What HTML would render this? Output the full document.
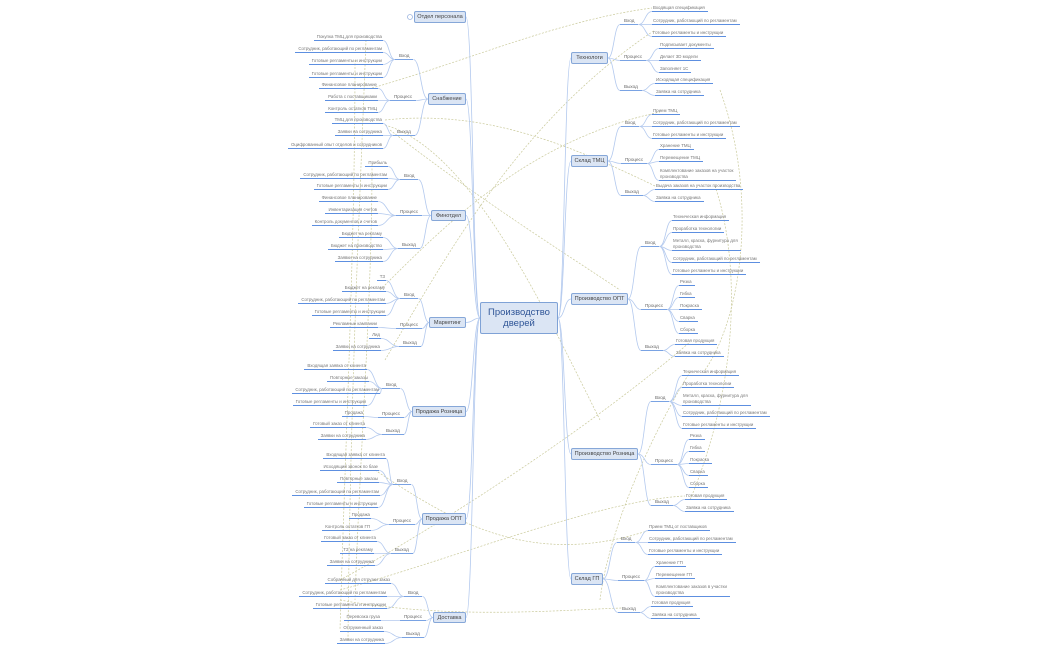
<!DOCTYPE html>
<html><head><meta charset="utf-8">
<style>
html,body{margin:0;padding:0;background:#fff;}
#w{position:relative;width:1050px;height:650px;overflow:hidden;font-family:"Liberation Sans",sans-serif;}
svg{position:absolute;left:0;top:0;}
.n{position:absolute;box-sizing:border-box;background:#dbe5f4;border:1px solid #86a7d8;border-radius:2px;font-size:5.6px;color:#444;display:flex;align-items:center;justify-content:center;white-space:nowrap;}
#n0{font-size:9.5px;color:#2f5597;border:1.5px solid #7fa2d6;text-align:center;line-height:11px;}
.l,.gl{position:absolute;font-size:4.4px;line-height:6px;height:6px;color:#777;border-bottom:1px solid #5d8fe0;padding:0 1px 0 3px;white-space:nowrap;}
.R.l{padding:0 3px 0 1px;}
.gl{color:#666;font-size:4.6px;padding:0 4px;border-bottom:1px solid #7aa3e3;}
.t2{height:12px;line-height:6px;}
</style></head><body><div id="w">
<svg id="s" width="1050" height="650">
<g fill="none" stroke="#c9c99a" stroke-width="0.7" stroke-dasharray="2,1.5">
<path d="M372 88 C470 60 560 20 652 8"/>
<path d="M385 120 C480 110 560 140 655 186"/>
<path d="M385 125 C470 150 540 300 600 420"/>
<path d="M366 40 C360 200 350 400 348 640"/>
<path d="M355 60 C355 250 345 450 340 630"/>
<path d="M372 165 C372 300 360 450 355 600"/>
<path d="M385 360 C450 250 520 120 655 30"/>
<path d="M720 90 C760 200 740 320 705 370"/>
<path d="M715 186 C740 260 740 380 690 500"/>
<path d="M600 600 C610 520 660 420 690 372"/>
<path d="M340 580 C450 520 600 420 690 342"/>
<path d="M340 590 C450 560 600 500 685 496"/>
<path d="M340 600 C450 620 560 610 622 608"/>
<path d="M380 290 C450 220 530 140 660 112"/>
<path d="M375 470 C450 520 530 570 650 530"/>
<path d="M390 130 C480 200 560 250 620 290"/>
</g>
<g id="cv" fill="none" stroke="#b3c9ee" stroke-width="0.8"></g>
<circle cx="410" cy="17" r="2.5" fill="#fff" stroke="#9db5e0" stroke-width="0.8"/>
</svg>

<div class="n" id="n0" style="left:480px;top:302px;width:78px;height:32px;">Производство<br>дверей</div>
<div class="n" id="n1" style="left:414px;top:11px;width:52px;height:12px;">Отдел персонала</div>
<div class="n" id="n2" style="left:428px;top:93px;width:38px;height:12px;">Снабжение</div>
<div class="n" id="n3" style="left:431px;top:210px;width:35px;height:11px;">Финотдел</div>
<div class="n" id="n4" style="left:429px;top:317px;width:37px;height:11px;">Маркетинг</div>
<div class="n" id="n5" style="left:412px;top:406px;width:54px;height:11px;">Продажа Розница</div>
<div class="n" id="n6" style="left:422px;top:513px;width:44px;height:12px;">Продажа ОПТ</div>
<div class="n" id="n7" style="left:433px;top:612px;width:33px;height:11px;">Доставка</div>
<div class="n" id="n8" style="left:571px;top:52px;width:37px;height:12px;">Технологи</div>
<div class="n" id="n9" style="left:571px;top:155px;width:37px;height:12px;">Склад ТМЦ</div>
<div class="n" id="n10" style="left:571px;top:293px;width:57px;height:12px;">Производство ОПТ</div>
<div class="n" id="n11" style="left:571px;top:448px;width:67px;height:12px;">Производство Розница</div>
<div class="n" id="n12" style="left:571px;top:573px;width:32px;height:12px;">Склад ГП</div>

<div class="gl L n2" id="g1" style="left:395px;top:53px;">Вход</div>
<div class="l L g1" style="right:667px;top:34px;">Покупка ТМЦ для производства</div>
<div class="l L g1" style="right:667px;top:46px;">Сотрудник, работающий по регламентам</div>
<div class="l L g1" style="right:667px;top:58px;">Готовые регламенты и инструкции</div>
<div class="l L g1" style="right:667px;top:71px;">Готовые регламенты и инструкции</div>
<div class="gl L n2" id="g2" style="left:390px;top:94px;">Процесс</div>
<div class="l L g2" style="right:672px;top:82px;">Финансовое планирование</div>
<div class="l L g2" style="right:672px;top:94px;">Работа с поставщиками</div>
<div class="l L g2" style="right:672px;top:106px;">Контроль остатков ТМЦ</div>
<div class="gl L n2" id="g3" style="left:393px;top:129px;">Выход</div>
<div class="l L g3" style="right:667px;top:117px;">ТМЦ для производства</div>
<div class="l L g3" style="right:667px;top:129px;">Заявки на сотрудника</div>
<div class="l L g3" style="right:667px;top:142px;">Оцифрованный опыт отделов и сотрудников</div>
<div class="gl L n3" id="g4" style="left:400px;top:173px;">Вход</div>
<div class="l L g4" style="right:662px;top:160px;">Прибыль</div>
<div class="l L g4" style="right:662px;top:172px;">Сотрудник, работающий по регламентам</div>
<div class="l L g4" style="right:662px;top:183px;">Готовые регламенты и инструкции</div>
<div class="gl L n3" id="g5" style="left:396px;top:209px;">Процесс</div>
<div class="l L g5" style="right:672px;top:195px;">Финансовое планирование</div>
<div class="l L g5" style="right:672px;top:207px;">Инвентаризация счетов</div>
<div class="l L g5" style="right:672px;top:219px;">Контроль документов и счетов</div>
<div class="gl L n3" id="g6" style="left:398px;top:242px;">Выход</div>
<div class="l L g6" style="right:667px;top:231px;">Бюджет на рекламу</div>
<div class="l L g6" style="right:667px;top:243px;">Бюджет на производство</div>
<div class="l L g6" style="right:667px;top:255px;">Заявки на сотрудника</div>
<div class="gl L n4" id="g7" style="left:400px;top:292px;">Вход</div>
<div class="l L g7" style="right:664px;top:274px;">ТЗ</div>
<div class="l L g7" style="right:664px;top:285px;">Бюджет на рекламу</div>
<div class="l L g7" style="right:664px;top:297px;">Сотрудник, работающий по регламентам</div>
<div class="l L g7" style="right:664px;top:309px;">Готовые регламенты и инструкции</div>
<div class="gl L n4" id="g8" style="left:396px;top:322px;">Процесс</div>
<div class="l L g8" style="right:672px;top:321px;">Рекламные кампании</div>
<div class="gl L n4" id="g9" style="left:399px;top:340px;">Выход</div>
<div class="l L g9" style="right:669px;top:332px;">Лид</div>
<div class="l L g9" style="right:669px;top:344px;">Заявки на сотрудника</div>
<div class="gl L n5" id="g10" style="left:382px;top:382px;">Вход</div>
<div class="l L g10" style="right:683px;top:363px;">Входящая заявка от клиента</div>
<div class="l L g10" style="right:681px;top:375px;">Повторные заказы</div>
<div class="l L g10" style="right:670px;top:387px;">Сотрудник, работающий по регламентам</div>
<div class="l L g10" style="right:683px;top:399px;">Готовые регламенты и инструкции</div>
<div class="gl L n5" id="g11" style="left:378px;top:411px;">Процесс</div>
<div class="l L g11" style="right:686px;top:410px;">Продажа</div>
<div class="gl L n5" id="g12" style="left:382px;top:428px;">Выход</div>
<div class="l L g12" style="right:684px;top:421px;">Готовый заказ от клиента</div>
<div class="l L g12" style="right:684px;top:433px;">Заявки на сотрудника</div>
<div class="gl L n6" id="g13" style="left:393px;top:478px;">Вход</div>
<div class="l L g13" style="right:664px;top:452px;">Входящая заявка от клиента</div>
<div class="l L g13" style="right:671px;top:464px;">Исходящий звонок по базе</div>
<div class="l L g13" style="right:671px;top:476px;">Повторные заказы</div>
<div class="l L g13" style="right:670px;top:489px;">Сотрудник, работающий по регламентам</div>
<div class="l L g13" style="right:672px;top:501px;">Готовые регламенты и инструкции</div>
<div class="gl L n6" id="g14" style="left:389px;top:518px;">Процесс</div>
<div class="l L g14" style="right:679px;top:512px;">Продажа</div>
<div class="l L g14" style="right:679px;top:524px;">Контроль остатков ГП</div>
<div class="gl L n6" id="g15" style="left:391px;top:547px;">Выход</div>
<div class="l L g15" style="right:673px;top:535px;">Готовый заказ от клиента</div>
<div class="l L g15" style="right:676px;top:547px;">ТЗ на рекламу</div>
<div class="l L g15" style="right:675px;top:559px;">Заявки на сотрудника</div>
<div class="gl L n7" id="g16" style="left:404px;top:590px;">Вход</div>
<div class="l L g16" style="right:659px;top:577px;">Собранный для отгрузки заказ</div>
<div class="l L g16" style="right:663px;top:590px;">Сотрудник, работающий по регламентам</div>
<div class="l L g16" style="right:663px;top:602px;">Готовые регламенты и инструкции</div>
<div class="gl L n7" id="g17" style="left:400px;top:614px;">Процесс</div>
<div class="l L g17" style="right:669px;top:614px;">Перевозка груза</div>
<div class="gl L n7" id="g18" style="left:402px;top:631px;">Выход</div>
<div class="l L g18" style="right:666px;top:625px;">Отгруженный заказ</div>
<div class="l L g18" style="right:665px;top:637px;">Заявки на сотрудника</div>

<div class="gl R n8" id="g19" style="left:620px;top:18px;">Вход</div>
<div class="l R g19" style="left:652px;top:5px;">Входящая спецификация</div>
<div class="l R g19" style="left:652px;top:18px;">Сотрудник, работающий по регламентам</div>
<div class="l R g19" style="left:652px;top:30px;">Готовые регламенты и инструкции</div>
<div class="gl R n8" id="g20" style="left:620px;top:54px;">Процесс</div>
<div class="l R g20" style="left:659px;top:42px;">Подписывает документы</div>
<div class="l R g20" style="left:659px;top:54px;">Делает 3D модели</div>
<div class="l R g20" style="left:659px;top:66px;">Заполняет 1С</div>
<div class="gl R n8" id="g21" style="left:620px;top:84px;">Выход</div>
<div class="l R g21" style="left:655px;top:77px;">Исходящая спецификация</div>
<div class="l R g21" style="left:655px;top:89px;">Заявка на сотрудника</div>
<div class="gl R n9" id="g22" style="left:621px;top:120px;">Вход</div>
<div class="l R g22" style="left:652px;top:108px;">Прием ТМЦ</div>
<div class="l R g22" style="left:652px;top:120px;">Сотрудник, работающий по регламентам</div>
<div class="l R g22" style="left:652px;top:132px;">Готовые регламенты и инструкции</div>
<div class="gl R n9" id="g23" style="left:621px;top:157px;">Процесс</div>
<div class="l R g23" style="left:659px;top:143px;">Хранение ТМЦ</div>
<div class="l R g23" style="left:659px;top:155px;">Перемещение ТМЦ</div>
<div class="l R g23 t2" style="left:659px;top:168px;">Комплектование заказов на участок<br>производства</div>
<div class="gl R n9" id="g24" style="left:621px;top:189px;">Выход</div>
<div class="l R g24" style="left:655px;top:183px;">Выдача заказов на участок производства</div>
<div class="l R g24" style="left:655px;top:195px;">Заявка на сотрудника</div>
<div class="gl R n10" id="g25" style="left:641px;top:240px;">Вход</div>
<div class="l R g25" style="left:672px;top:214px;">Техническая информация</div>
<div class="l R g25" style="left:672px;top:226px;">Проработка технологии</div>
<div class="l R g25 t2" style="left:672px;top:238px;">Металл, краска, фурнитура для<br>производства</div>
<div class="l R g25" style="left:672px;top:256px;">Сотрудник, работающий по регламентам</div>
<div class="l R g25" style="left:672px;top:268px;">Готовые регламенты и инструкции</div>
<div class="gl R n10" id="g26" style="left:641px;top:303px;">Процесс</div>
<div class="l R g26" style="left:679px;top:279px;">Резка</div>
<div class="l R g26" style="left:679px;top:291px;">Гибка</div>
<div class="l R g26" style="left:679px;top:303px;">Покраска</div>
<div class="l R g26" style="left:679px;top:315px;">Сварка</div>
<div class="l R g26" style="left:679px;top:327px;">Сборка</div>
<div class="gl R n10" id="g27" style="left:641px;top:344px;">Выход</div>
<div class="l R g27" style="left:675px;top:338px;">Готовая продукция</div>
<div class="l R g27" style="left:675px;top:350px;">Заявка на сотрудника</div>
<div class="gl R n11" id="g28" style="left:651px;top:395px;">Вход</div>
<div class="l R g28" style="left:682px;top:369px;">Техническая информация</div>
<div class="l R g28" style="left:682px;top:381px;">Проработка технологии</div>
<div class="l R g28 t2" style="left:682px;top:393px;">Металл, краска, фурнитура для<br>производства</div>
<div class="l R g28" style="left:682px;top:410px;">Сотрудник, работающий по регламентам</div>
<div class="l R g28" style="left:682px;top:422px;">Готовые регламенты и инструкции</div>
<div class="gl R n11" id="g29" style="left:651px;top:458px;">Процесс</div>
<div class="l R g29" style="left:689px;top:433px;">Резка</div>
<div class="l R g29" style="left:689px;top:445px;">Гибка</div>
<div class="l R g29" style="left:689px;top:457px;">Покраска</div>
<div class="l R g29" style="left:689px;top:469px;">Сварка</div>
<div class="l R g29" style="left:689px;top:481px;">Сборка</div>
<div class="gl R n11" id="g30" style="left:651px;top:499px;">Выход</div>
<div class="l R g30" style="left:685px;top:493px;">Готовая продукция</div>
<div class="l R g30" style="left:685px;top:505px;">Заявка на сотрудника</div>
<div class="gl R n12" id="g31" style="left:617px;top:536px;">Вход</div>
<div class="l R g31" style="left:648px;top:524px;">Прием ТМЦ от поставщиков</div>
<div class="l R g31" style="left:648px;top:536px;">Сотрудник, работающий по регламентам</div>
<div class="l R g31" style="left:648px;top:548px;">Готовые регламенты и инструкции</div>
<div class="gl R n12" id="g32" style="left:618px;top:574px;">Процесс</div>
<div class="l R g32" style="left:655px;top:560px;">Хранение ГП</div>
<div class="l R g32" style="left:655px;top:572px;">Перемещение ГП</div>
<div class="l R g32 t2" style="left:655px;top:584px;">Комплектование заказов в участки<br>производства</div>
<div class="gl R n12" id="g33" style="left:618px;top:606px;">Выход</div>
<div class="l R g33" style="left:651px;top:600px;">Готовая продукция</div>
<div class="l R g33" style="left:651px;top:612px;">Заявка на сотрудника</div>
</div>
<script>
(function(){
var g=document.getElementById('cv'),out='';
function c(x1,y1,x2,y2){var m=(x1+x2)/2;out+='<path d="M'+x1+' '+y1+' C'+m+' '+y1+' '+m+' '+y2+' '+x2+' '+y2+'"/>';}
function r(e){return e.getBoundingClientRect();}
var c0=r(document.getElementById('n0')),cy=(c0.top+c0.bottom)/2;
for(var i=1;i<=12;i++){var n=r(document.getElementById('n'+i)),ny=(n.top+n.bottom)/2;
 if(i<=7)c(c0.left,cy,n.right,ny);else c(c0.right,cy,n.left,ny);}
var gls=document.querySelectorAll('.gl');
for(var k=0;k<gls.length;k++){var el=gls[k],L=el.classList.contains('L'),nid=el.className.match(/n\d+/)[0];
 var n=r(document.getElementById(nid)),ny=(n.top+n.bottom)/2,b=r(el),by=b.bottom-0.5;
 if(L)c(n.left,ny,b.right,by);else c(n.right,ny,b.left,by);
 var lv=document.querySelectorAll('.l.'+el.id);
 for(var j=0;j<lv.length;j++){var q=r(lv[j]);
  if(L)c(b.left,by,q.right,q.bottom-0.5);else c(b.right,by,q.left,q.bottom-0.5);}}
g.innerHTML=out;
})();
</script>
</body></html>
